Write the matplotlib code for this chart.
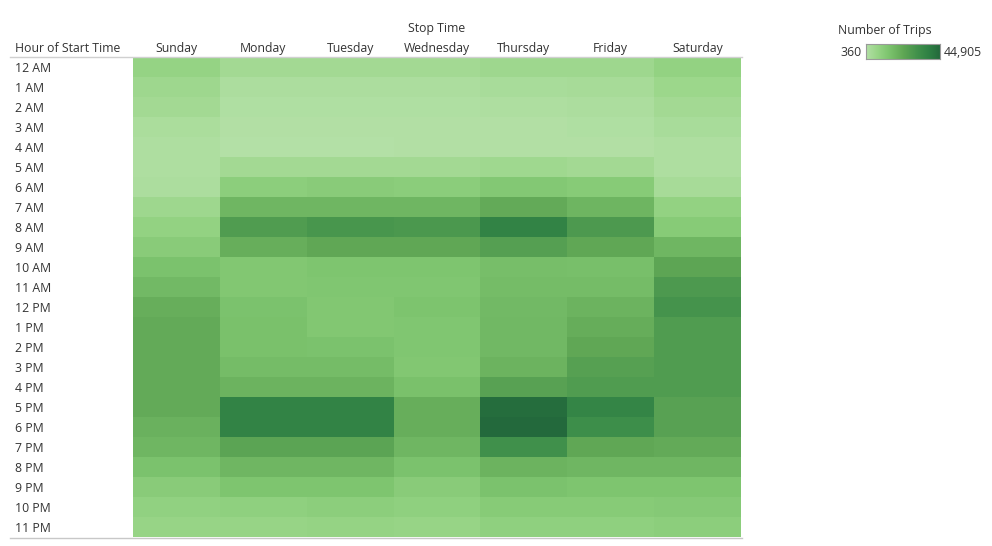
import numpy as np
import matplotlib
matplotlib.use("Agg")
import matplotlib.pyplot as plt
from matplotlib.colors import LinearSegmentedColormap, Normalize

hours = ["12 AM", "1 AM", "2 AM", "3 AM", "4 AM", "5 AM", "6 AM", "7 AM", "8 AM", "9 AM",
         "10 AM", "11 AM", "12 PM", "1 PM", "2 PM", "3 PM", "4 PM", "5 PM", "6 PM", "7 PM",
         "8 PM", "9 PM", "10 PM", "11 PM"]
days = ["Sunday", "Monday", "Tuesday", "Wednesday", "Thursday", "Friday", "Saturday"]

sunday = [7933, 5705, 4369, 2587, 1696, 1696, 2142, 5705, 8378, 11051, 14614, 17287,
          20405, 21742, 21742, 21742, 21742, 21742, 19514, 18178, 14614, 11051, 8824, 7487]
monday = [4369, 2142, 1251, 805, 360, 4369, 10160, 18178, 27087, 20405, 12833, 12833,
          14614, 15060, 15060, 16396, 19069, 36887, 36887, 23969, 18178, 13724, 9269, 7487]
tuesday = [4369, 2142, 1251, 805, 360, 4369, 11051, 18178, 29314, 22633, 13724, 13278,
           12833, 12833, 14614, 16396, 19069, 36887, 36887, 23969, 18178, 13724, 10160, 7933]
wednesday = [4369, 2142, 1251, 805, 805, 4369, 10605, 18178, 28423, 22633, 13724, 13278,
             14169, 13278, 13278, 12833, 15060, 20405, 20405, 18178, 14614, 11051, 9269, 7487]
thursday = [5705, 3033, 1696, 805, 805, 5260, 12387, 21742, 36887, 25751, 15951, 16396,
            17287, 17733, 17733, 19069, 24860, 43569, 44905, 31542, 19069, 14614, 11496, 9269]
friday = [5705, 3478, 2142, 1251, 805, 4369, 11496, 18623, 27978, 22633, 15505, 16396,
          19069, 20851, 22633, 25305, 27087, 35996, 32432, 22633, 18178, 13724, 11496, 9269]
saturday = [8378, 6151, 4369, 3033, 1696, 1696, 3478, 8378, 11496, 18178, 23523, 27978,
            30205, 27087, 27087, 27087, 27087, 24860, 24860, 21742, 18178, 13724, 11942, 10160]

vmin, vmax = 360, 44905
legend_title = "Number of Trips"
legend_min_label = "360"
legend_max_label = "44,905"

data = np.array([sunday, monday, tuesday, wednesday, thursday, friday, saturday]).T

cmap = LinearSegmentedColormap.from_list(
    "tab_green",
    [(0.0, "#b3e0a6"), (0.15, "#98d587"), (0.3, "#7ec56f"), (0.5, "#60a755"),
     (0.7, "#40904b"), (0.85, "#2e8044"), (1.0, "#23693c")])
norm = Normalize(vmin=vmin, vmax=vmax)

W, H = 992, 546
fig = plt.figure(figsize=(W / 100, H / 100), dpi=100)
plt.rcParams['font.family'] = ['Open Sans', 'DejaVu Sans']

def fx(px):
    return px / W

def fy(py):
    return 1 - (py + 1.5) / H

def gy(py):
    return 1 - py / H

gx0, gx1, gy0, gy1 = 133, 741, 57, 537
ax = fig.add_axes([fx(gx0), gy(gy1), (gx1 - gx0) / W, (gy1 - gy0) / H])
ax.pcolormesh(np.arange(len(days) + 1), np.arange(len(hours) + 1), data,
              cmap=cmap, norm=norm, shading="flat", edgecolors="none")
ax.set_xlim(0, len(days))
ax.set_ylim(len(hours), 0)
ax.set_axis_off()

txt = "#333333"
fs = 8.8
row_h = (gy1 - gy0) / len(hours)
for i, h in enumerate(hours):
    fig.text(fx(15), fy(gy0 + row_h * (i + 0.5)), h, ha="left", va="center",
             fontsize=fs, color=txt)
col_w = (gx1 - gx0) / len(days)
for j, d in enumerate(days):
    fig.text(fx(gx0 + col_w * (j + 0.5)), fy(47), d, ha="center", va="center",
             fontsize=fs, color=txt)
fig.text(fx(15), fy(47), "Hour of Start Time", ha="left", va="center", fontsize=fs, color=txt)
fig.text(fx((gx0 + gx1) / 2), fy(27), "Stop Time", ha="center", va="center", fontsize=fs, color=txt)

line_ax = fig.add_axes([0, 0, 1, 1], facecolor="none")
line_ax.set_xlim(0, W)
line_ax.set_ylim(H, 0)
line_ax.set_axis_off()
line_ax.plot([10, gx1 + 1], [gy0 - 0.5, gy0 - 0.5], color="#d0d0d0", lw=1.0)
line_ax.plot([10, gx1 + 1], [gy1 + 0.5, gy1 + 0.5], color="#c8c8c8", lw=1.0)

# legend
fig.text(fx(838), fy(29), legend_title, ha="left", va="center", fontsize=fs, color=txt)
fig.text(fx(862), fy(51), legend_min_label, ha="right", va="center", fontsize=fs, color=txt)
fig.text(fx(944), fy(51), legend_max_label, ha="left", va="center", fontsize=fs, color=txt)
cax = fig.add_axes([fx(866), gy(59), (940 - 866) / W, 15 / H])
grad = np.linspace(vmin, vmax, 256).reshape(1, -1)
cax.imshow(grad, aspect="auto", cmap=cmap, norm=norm, extent=[vmin, vmax, 0, 1])
cax.set_xticks([])
cax.set_yticks([])
for s in cax.spines.values():
    s.set_color("#9a9a9a")
    s.set_linewidth(0.8)

fig.savefig("out.png", dpi=100)
